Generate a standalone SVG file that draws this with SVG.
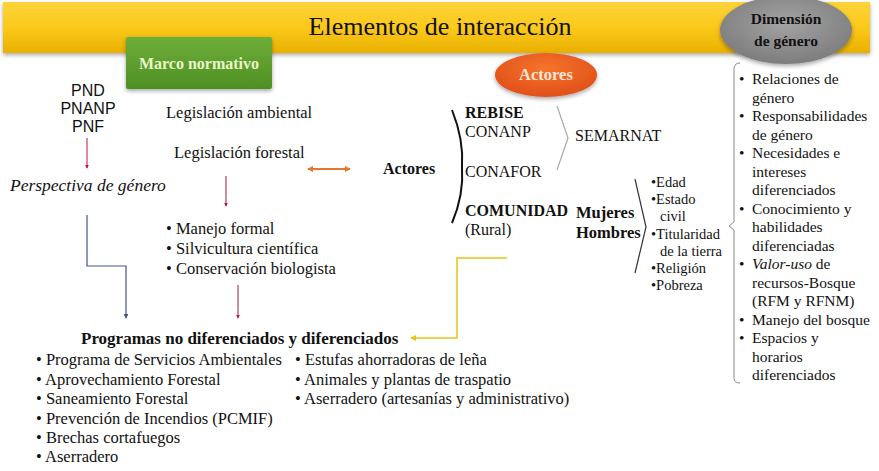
<svg xmlns="http://www.w3.org/2000/svg" width="879" height="471" viewBox="0 0 879 471">
<defs>
<linearGradient id="ban" x1="0" y1="0" x2="0" y2="1">
<stop offset="0" stop-color="#fcd33a"/><stop offset="0.5" stop-color="#fbc91a"/><stop offset="1" stop-color="#e9b000"/>
</linearGradient>
<linearGradient id="grn" x1="0" y1="0" x2="0" y2="1">
<stop offset="0" stop-color="#6fae3a"/><stop offset="1" stop-color="#4d8f23"/>
</linearGradient>
<radialGradient id="gry" cx="0.5" cy="0.4" r="0.6">
<stop offset="0" stop-color="#a3a3a3"/><stop offset="1" stop-color="#7d7d7d"/>
</radialGradient>
<radialGradient id="org" cx="0.5" cy="0.35" r="0.6">
<stop offset="0" stop-color="#f5742c"/><stop offset="1" stop-color="#e2521a"/>
</radialGradient>
<filter id="sh" x="-20%" y="-20%" width="140%" height="150%"><feDropShadow dx="0" dy="2" stdDeviation="2" flood-opacity="0.35"/></filter>
<marker id="ar" viewBox="0 0 6 6" refX="5" refY="3" markerWidth="4" markerHeight="4" orient="auto"><path d="M0,0 L6,3 L0,6 z" fill="#c0143c"/></marker>
<marker id="ab" viewBox="0 0 6 6" refX="5" refY="3" markerWidth="4" markerHeight="4" orient="auto"><path d="M0,0 L6,3 L0,6 z" fill="#44548c"/></marker>
<marker id="ay" viewBox="0 0 6 6" refX="5" refY="3" markerWidth="4" markerHeight="4" orient="auto"><path d="M0,0 L6,3 L0,6 z" fill="#e8c41a"/></marker>
<marker id="ao" viewBox="0 0 6 6" refX="5" refY="3" markerWidth="3" markerHeight="3" orient="auto-start-reverse"><path d="M0,0 L6,3 L0,6 z" fill="#e8762c"/></marker>
</defs>
<style>
.s{font-family:"Liberation Serif","Times New Roman",serif;fill:#111}
.a{font-family:"Liberation Sans",Arial,sans-serif;fill:#111}
.b{font-weight:bold}
.i{font-style:italic}
.t16{font-size:16px}
.t165{font-size:16.5px}
.t15{font-size:15.5px}
.t14{font-size:14.5px}
</style>
<g id="banner">
<rect x="3" y="2" width="867" height="51" fill="url(#ban)" filter="url(#sh)"/>
<text x="440" y="35" text-anchor="middle" class="s" font-size="26">Elementos de interacción</text>
</g>
<g id="marco">
<rect x="126" y="37" width="146" height="52" rx="2" fill="url(#grn)" filter="url(#sh)"/>
<text x="199" y="69" text-anchor="middle" class="s b t16" style="fill:#eaf6c8">Marco normativo</text>
</g>
<g id="dimension">
<ellipse cx="786" cy="30" rx="66" ry="34" fill="url(#gry)" filter="url(#sh)"/>
<text x="786" y="24" text-anchor="middle" class="s b t15">Dimensión</text>
<text x="786" y="46" text-anchor="middle" class="s b t15">de género</text>
</g>
<g id="actores-oval">
<ellipse cx="546" cy="75" rx="51" ry="22" fill="url(#org)" filter="url(#sh)"/>
<text x="546" y="80" text-anchor="middle" class="s b" font-size="16.5" style="fill:#fbe6d8">Actores</text>
</g>
<g id="planes">
<text x="88" y="96" text-anchor="middle" class="a t16">PND</text>
<text x="88" y="114" text-anchor="middle" class="a t16">PNANP</text>
<text x="88" y="132" text-anchor="middle" class="a t16">PNF</text>
</g>
<g id="perspectiva">
<text x="10" y="191" class="s i" font-size="17.5">Perspectiva de género</text>
</g>
<g id="legislacion">
<text x="166" y="118" class="s t165">Legislación ambiental</text>
<text x="174" y="158" class="s t165">Legislación forestal</text>
</g>
<g id="manejo">
<text x="166" y="234" class="s t165">• Manejo formal</text>
<text x="166" y="254" class="s t165">• Silvicultura científica</text>
<text x="166" y="274" class="s t165">• Conservación biologista</text>
</g>
<g id="actores">
<text x="383" y="174" class="s b t16">Actores</text>
</g>
<g id="instituciones">
<text x="465" y="118" class="s b t16">REBISE</text>
<text x="465" y="137" class="s t16">CONANP</text>
<text x="465" y="177" class="s t16">CONAFOR</text>
<text x="465" y="216" class="s b t16">COMUNIDAD</text>
<text x="465" y="235" class="s t16">(Rural)</text>
</g>
<g id="semarnat">
<text x="575" y="141" class="s t16">SEMARNAT</text>
</g>
<g id="mujeres">
<text x="576" y="218" class="s b t165">Mujeres</text>
<text x="576" y="238" class="s b t165">Hombres</text>
</g>
<g id="factores">
<text x="651" y="187" class="s t14">•Edad</text>
<text x="651" y="204" class="s t14">•Estado</text>
<text x="660" y="221" class="s t14">civil</text>
<text x="651" y="239" class="s t14">•Titularidad</text>
<text x="660" y="256" class="s t14">de la tierra</text>
<text x="651" y="273" class="s t14">•Religión</text>
<text x="651" y="290" class="s t14">•Pobreza</text>
</g>
<g id="genero-lista">
<text class="s t15">
<tspan x="739" y="84">•</tspan><tspan x="752" y="84">Relaciones de</tspan>
<tspan x="752" y="102.5">género</tspan>
<tspan x="739" y="121">•</tspan><tspan x="752" y="121">Responsabilidades</tspan>
<tspan x="752" y="139.5">de género</tspan>
<tspan x="739" y="158">•</tspan><tspan x="752" y="158">Necesidades e</tspan>
<tspan x="752" y="176.5">intereses</tspan>
<tspan x="752" y="195">diferenciados</tspan>
<tspan x="739" y="213.5">•</tspan><tspan x="752" y="213.5">Conocimiento y</tspan>
<tspan x="752" y="232">habilidades</tspan>
<tspan x="752" y="250.5">diferenciadas</tspan>
<tspan x="739" y="269">•</tspan><tspan x="752" y="269" font-style="italic">Valor-uso</tspan><tspan> de</tspan>
<tspan x="752" y="287.5">recursos-Bosque</tspan>
<tspan x="752" y="306">(RFM y RFNM)</tspan>
<tspan x="739" y="324.5">•</tspan><tspan x="752" y="324.5">Manejo del bosque</tspan>
<tspan x="739" y="343">•</tspan><tspan x="752" y="343">Espacios y</tspan>
<tspan x="752" y="361.5">horarios</tspan>
<tspan x="752" y="380">diferenciados</tspan>
</text>
</g>
<g id="programas">
<text x="81" y="344" class="s b" font-size="17">Programas no diferenciados y diferenciados</text>
<text x="36" y="365" class="s t165">• Programa de Servicios Ambientales</text>
<text x="36" y="385" class="s t165">• Aprovechamiento Forestal</text>
<text x="36" y="404" class="s t165">• Saneamiento Forestal</text>
<text x="36" y="424" class="s t165">• Prevención de Incendios (PCMIF)</text>
<text x="36" y="443" class="s t165">• Brechas cortafuegos</text>
<text x="36" y="462" class="s t165">• Aserradero</text>
<text x="295" y="365" class="s t165">• Estufas ahorradoras de leña</text>
<text x="295" y="385" class="s t165">• Animales y plantas de traspatio</text>
<text x="295" y="404" class="s t165">• Aserradero (artesanías y administrativo)</text>
</g>
<g id="connectors" fill="none">
<line x1="87" y1="138" x2="87" y2="168" stroke="#c0143c" stroke-width="1" marker-end="url(#ar)"/>
<line x1="226" y1="176" x2="226" y2="206" stroke="#9a2040" stroke-width="1" marker-end="url(#ar)"/>
<line x1="238" y1="285" x2="238" y2="318" stroke="#9a2040" stroke-width="1" marker-end="url(#ar)"/>
<polyline points="87,215 87,266 126,266 126,318" stroke="#44548c" stroke-width="1.2" marker-end="url(#ab)"/>
<line x1="308" y1="169" x2="350" y2="169" stroke="#e8762c" stroke-width="2" marker-start="url(#ao)" marker-end="url(#ao)"/>
<polyline points="507,258 457,258 457,338 411,338" stroke="#e8c41a" stroke-width="1.5" marker-end="url(#ay)"/>
<path d="M452,110 Q464,140 462,167 Q464,195 452,223" stroke="#111" stroke-width="2"/>
<polyline points="557,106 568,138 557,170" stroke="#aaa" stroke-width="1.2"/>
<polyline points="635,179 646,227 635,273" stroke="#333" stroke-width="1.2"/>
<path d="M740,63 Q734,63 734,69 L734,222 L729,226 L734,230 L734,378 Q734,383 740,383" stroke="#888" stroke-width="1"/>
</g>
</svg>
